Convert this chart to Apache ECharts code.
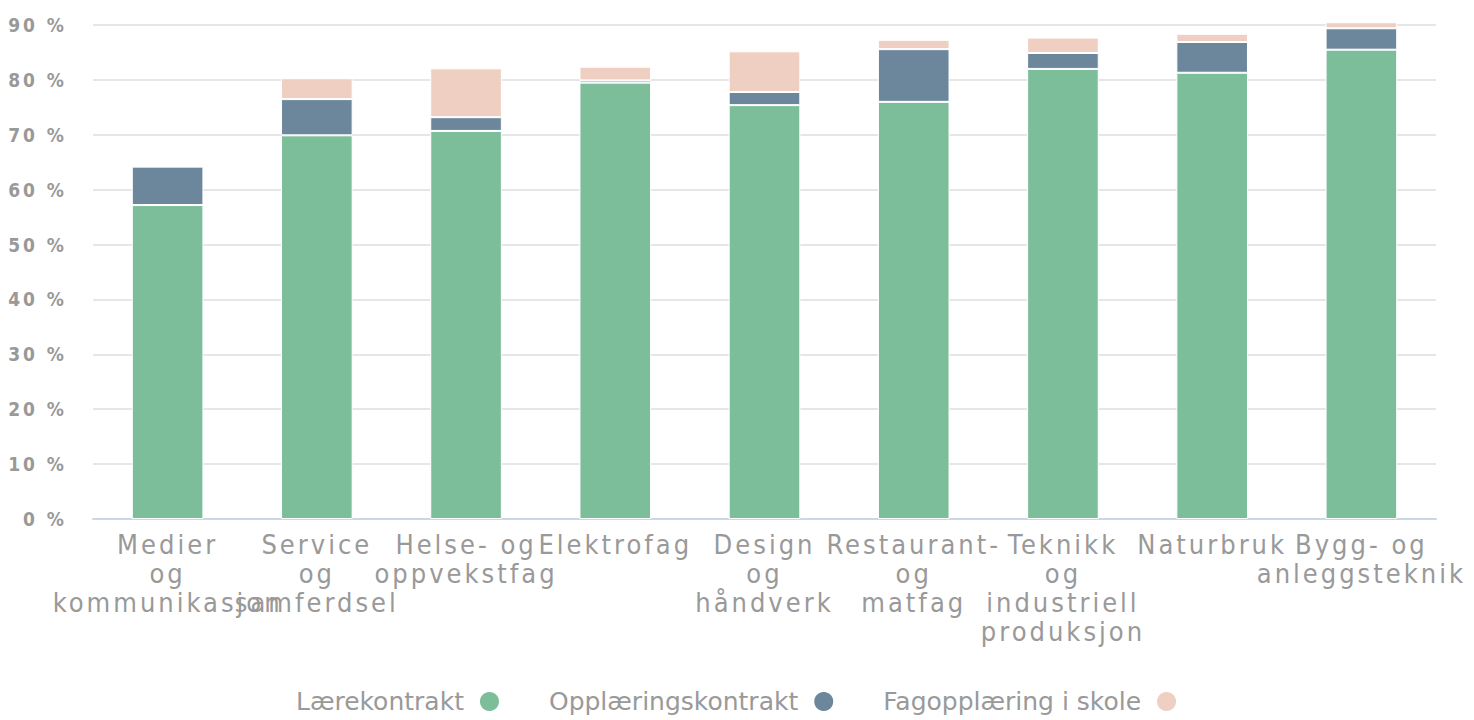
<!DOCTYPE html>
<html>
<head>
<meta charset="utf-8">
<script src="https://cdn.jsdelivr.net/npm/echarts@6/dist/echarts.min.js"></script>
<style>
  html, body { margin: 0; padding: 0; background: #fff; }
  #chart { width: 1474px; height: 720px; }
  /* the original axis text is drawn with wide letter spacing */
  #chart svg text[style*="27px"] { letter-spacing: 3px; }
  #chart svg text[style*="19px"] { letter-spacing: 3px; }
</style>
</head>
<body>
<div id="chart"></div>
<script>
const categories = [
  'Medier\nog\nkommunikasjon',
  'Service\nog\nsamferdsel',
  'Helse- og\noppvekstfag',
  'Elektrofag',
  'Design\nog\nhåndverk',
  'Restaurant-\nog\nmatfag',
  'Teknikk\nog\nindustriell\nproduksjon',
  'Naturbruk',
  'Bygg- og\nanleggsteknik'
];
const laerekontrakt = [57.2, 69.9, 70.7, 79.5, 75.4, 76.0, 82.0, 81.3, 85.5];
const opplaeringskontrakt = [7.0, 6.6, 2.5, 0.4, 2.4, 9.6, 2.9, 5.6, 3.9];
const fagopplaering = [0, 3.8, 8.9, 2.5, 7.4, 1.7, 2.8, 1.5, 1.1];
const seriesNames = ['Lærekontrakt', 'Opplæringskontrakt', 'Fagopplæring i skole'];
const yTicks = [0, 10, 20, 30, 40, 50, 60, 70, 80, 90];

const font = "'DejaVu Sans Condensed', 'DejaVu Sans'";
const chart = echarts.init(document.getElementById('chart'), null, { renderer: 'svg' });

const bar = (name, data, color) => ({
  name,
  type: 'bar',
  stack: 'total',
  data,
  barWidth: '48%',
  clip: false,
  itemStyle: { color, borderColor: '#fff', borderWidth: 1 },
  emphasis: { disabled: true }
});

const legendText = { color: '#999', fontSize: 25, fontFamily: 'DejaVu Sans' };

chart.setOption({
  animation: false,
  grid: { left: 93, right: 38, top: 25, bottom: 201 },
  legend: {
    bottom: 1,
    left: 'center',
    align: 'right',
    icon: 'circle',
    itemWidth: 21,
    itemHeight: 21,
    itemGap: 48,
    data: seriesNames,
    formatter: name => `{t|${name}}`,
    textStyle: {
      ...legendText,
      rich: { t: { ...legendText, padding: [0, 10, 0, 0] } }
    }
  },
  xAxis: {
    type: 'category',
    data: categories,
    axisLine: { lineStyle: { color: '#ccd6eb', width: 2 } },
    axisTick: { show: false },
    axisLabel: {
      interval: 0,
      color: '#999',
      fontSize: 27,
      lineHeight: 29,
      margin: 11,
      fontFamily: font
    }
  },
  yAxis: {
    type: 'value',
    min: 0,
    max: 90,
    interval: 10,
    axisLine: { show: false },
    axisTick: { show: false },
    splitLine: { lineStyle: { color: '#e6e6e6', width: 2 } },
    axisLabel: {
      color: '#999',
      fontSize: 19,
      fontFamily: font,
      fontWeight: 'bold',
      margin: 26,
      formatter: v => (yTicks.includes(v) ? v + ' %' : '')
    }
  },
  series: [
    bar(seriesNames[0], laerekontrakt, '#7dbe9a'),
    bar(seriesNames[1], opplaeringskontrakt, '#6c879c'),
    bar(seriesNames[2], fagopplaering, '#eecfc1')
  ]
});
</script>
</body>
</html>
